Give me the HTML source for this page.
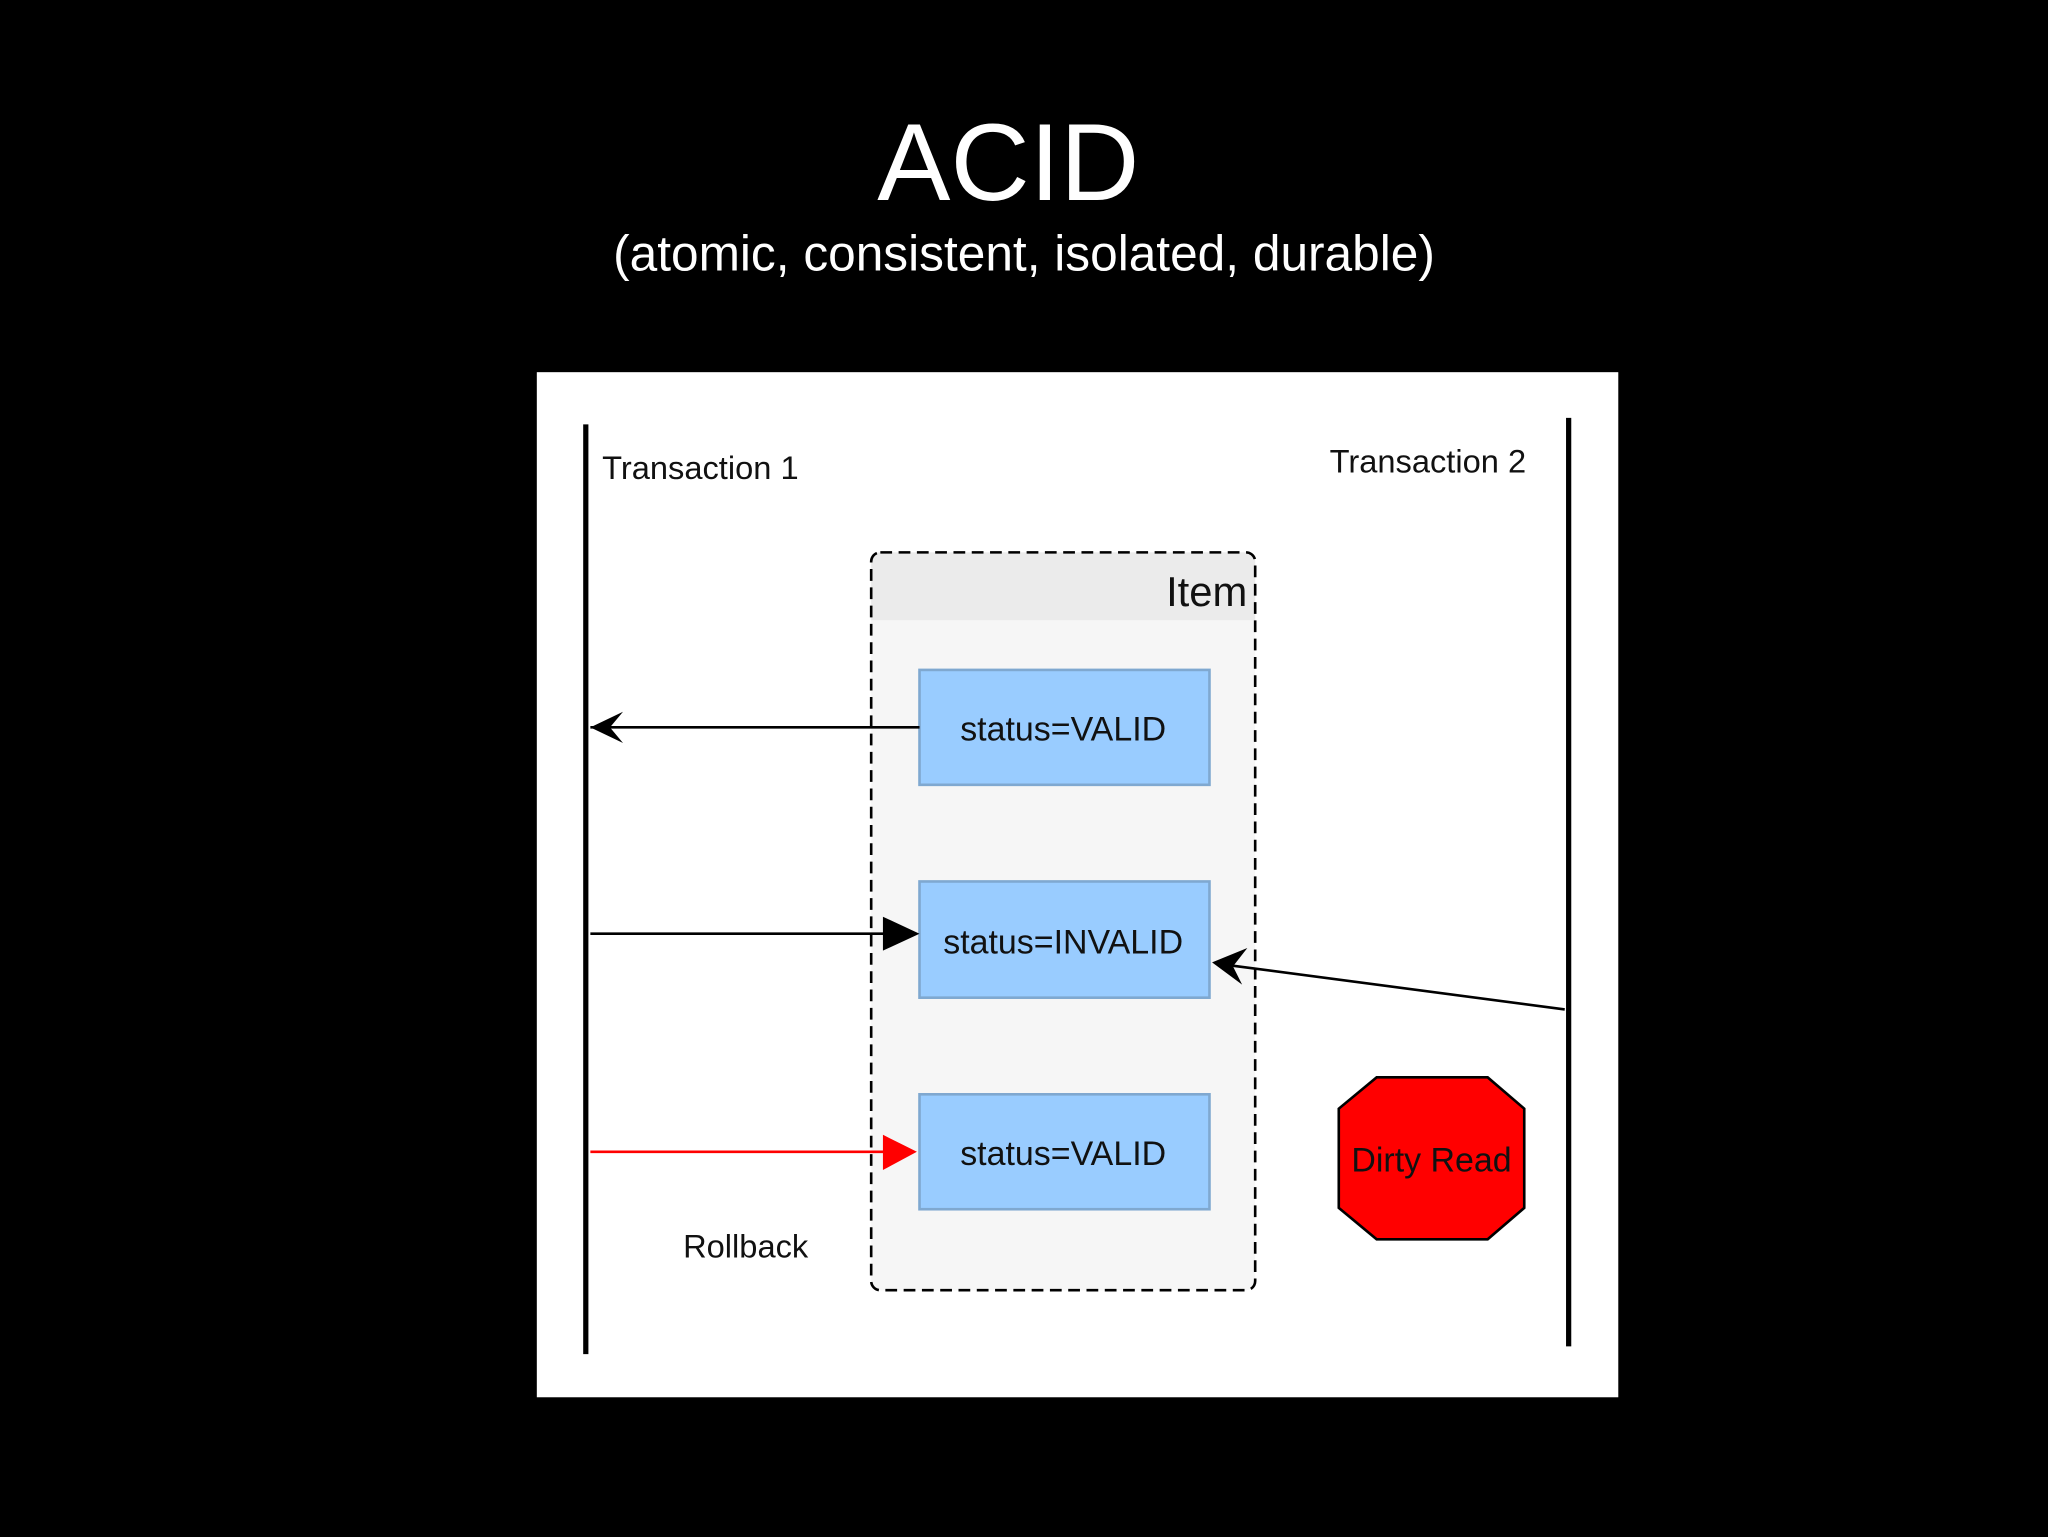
<!DOCTYPE html>
<html><head><meta charset="utf-8"><style>
html,body{margin:0;padding:0;background:#000;width:2048px;height:1537px;overflow:hidden}
svg{display:block}
text{font-family:"Liberation Sans",sans-serif}
</style></head><body>
<svg width="2048" height="1537" viewBox="0 0 1568 1177" preserveAspectRatio="none" xmlns="http://www.w3.org/2000/svg">
<rect width="1568" height="1177" fill="#000"/>
<text x="772" y="153" font-size="84" fill="#fff" text-anchor="middle">ACID</text>
<text x="784" y="207" font-size="38" fill="#fff" text-anchor="middle">(atomic, consistent, isolated, durable)</text>
<rect x="411" y="285" width="828" height="785" fill="#fff"/>
<line x1="448.5" y1="325" x2="448.5" y2="1037" stroke="#000" stroke-width="4"/>
<line x1="1201" y1="320" x2="1201" y2="1031" stroke="#000" stroke-width="4"/>
<text x="461" y="367" font-size="25" fill="#111">Transaction 1</text>
<text x="1018" y="362" font-size="25" fill="#111">Transaction 2</text>
<rect x="667" y="423" width="294" height="565" rx="7" fill="#f6f6f6"/>
<path d="M667 475 V430 Q667 423 674 423 H954 Q961 423 961 430 V475 Z" fill="#ebebeb"/>
<rect x="667" y="423" width="294" height="565" rx="7" fill="none" stroke="#000" stroke-width="2" stroke-dasharray="9,5"/>
<text x="955" y="464" font-size="32" fill="#111" text-anchor="end">Item</text>
<g fill="#99ccff" stroke="#7fa8d0" stroke-width="2">
<rect x="704" y="513" width="222" height="88"/>
<rect x="704" y="675" width="222" height="89"/>
<rect x="704" y="838" width="222" height="88"/>
</g>
<g font-size="26" fill="#111" text-anchor="middle">
<text x="814" y="567">status=VALID</text>
<text x="814" y="730">status=INVALID</text>
<text x="814" y="892">status=VALID</text>
</g>
<line x1="704" y1="557" x2="452" y2="557" stroke="#000" stroke-width="2"/>
<path d="M452 557 L477 545 L467 557 L477 569 Z" fill="#000"/>
<line x1="452" y1="715" x2="680" y2="715" stroke="#000" stroke-width="2"/>
<path d="M704 715 L676 702 L676 728 Z" fill="#000"/>
<line x1="452" y1="882" x2="680" y2="882" stroke="#f00" stroke-width="2"/>
<path d="M702 882 L676 869 L676 896 Z" fill="#f00"/>
<line x1="1198" y1="773" x2="940" y2="739" stroke="#000" stroke-width="2"/>
<path d="M928 737 L955 726 L944 740 L951 754 Z" fill="#000"/>
<polygon points="1054,825 1139,825 1167,849 1167,925 1139,949 1054,949 1025,925 1025,849" fill="#f00" stroke="#000" stroke-width="2"/>
<text x="1096" y="897" font-size="26" fill="#111" text-anchor="middle">Dirty Read</text>
<text x="523" y="963" font-size="25" fill="#111">Rollback</text>
</svg>
</body></html>
